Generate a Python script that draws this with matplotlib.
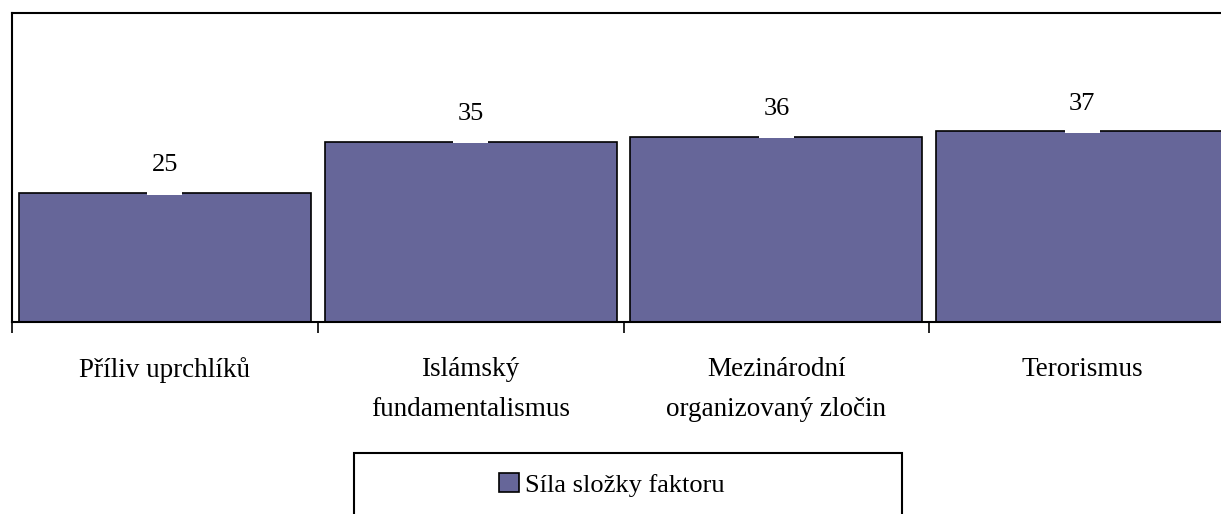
import matplotlib
matplotlib.use("Agg")
import matplotlib.pyplot as plt
from matplotlib.patches import Rectangle, Patch

categories = ["Příliv uprchlíků", "Islámský\nfundamentalismus",
              "Mezinárodní\norganizovaný zločin", "Terorismus"]
values = [25, 35, 36, 37]
series_name = "Síla složky faktoru"

plt.rcParams['font.family'] = ['Liberation Serif', 'DejaVu Serif']

W, H = 1221, 514
fig = plt.figure(figsize=(W / 100, H / 100), dpi=100)
ax = fig.add_axes([12 / W, 1 - 322 / H, 1223 / W, (322 - 13) / H])

x = list(range(len(values)))
bar_color = "#666699"
ax.bar(x, values, width=0.955, color=bar_color, edgecolor="black",
       linewidth=1.2, zorder=2)

for xi, v in zip(x, values):
    ax.add_patch(Rectangle((xi - 0.057, v - 0.25), 0.114, 3.5,
                           facecolor="white", edgecolor="none", zorder=3))
    ax.text(xi, v + 5.4, str(v), ha="center", va="center", fontsize=19,
            zorder=4)

ax.set_xlim(-0.5, len(values) - 0.5)
ax.set_ylim(0, 60)
ax.set_yticks([])

ax.set_xticks(x)
ax.set_xticklabels(categories, fontsize=19.5, linespacing=1.8)
ax.tick_params(axis="x", which="major", length=0, pad=25)
ax.set_xticks([i - 0.5 for i in range(len(values) + 1)], minor=True)
ax.tick_params(axis="x", which="minor", length=8, width=1.2, direction="out")

for s in ["left", "top", "bottom"]:
    ax.spines[s].set_linewidth(1.5)
    ax.spines[s].set_color("black")
ax.spines["right"].set_visible(False)

# legend frame
fig.patches.append(Rectangle((354 / W, -0.05), (902 - 354) / W, 0.05 + 1 - 453 / H,
                             transform=fig.transFigure, facecolor="white",
                             edgecolor="black", linewidth=1.5, zorder=1))
handle = Patch(facecolor=bar_color, edgecolor="black", linewidth=1.2)
fig.legend([handle], [series_name], loc="center",
           bbox_to_anchor=(612 / W, 1 - 485 / H), frameon=False, fontsize=19,
           handlelength=0.75, handleheight=0.75, handletextpad=0.25)

fig.savefig("out.png", dpi=100)
